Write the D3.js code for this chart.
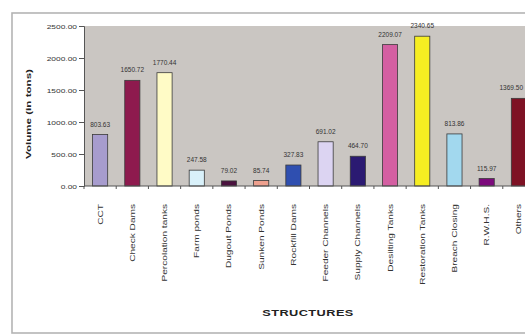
<!DOCTYPE html>
<html>
<head>
<meta charset="utf-8">
<script src="https://cdn.jsdelivr.net/npm/d3@7"></script>
<style>
  html, body { margin: 0; padding: 0; background: #fff; overflow: hidden; }
  svg { display: block; font-family: "Liberation Sans", Arial, sans-serif; }
</style>
</head>
<body>
<svg id="chart" width="525" height="334"></svg>
<script>
// Volume of earth work per structure type
const structures = ["CCT", "Check Dams", "Percolation tanks", "Farm ponds", "Dugout Ponds",
  "Sunken Ponds", "Rockfill Dams", "Feeder Channels", "Supply Channels", "Desilting Tanks",
  "Restoration Tanks", "Breach Closing", "R.W.H.S.", "Others"];
const volumes = [803.63, 1650.72, 1770.44, 247.58, 79.02, 85.74, 327.83, 691.02, 464.70,
  2209.07, 2340.65, 813.86, 115.97, 1369.50];
const barColors = ["#a79cce", "#8e1a4e", "#fffbc6", "#d9f1fa", "#4b123f", "#eea08e",
  "#2f4fb0", "#dcd4f2", "#2b1a72", "#d45fa2", "#f6ee22", "#a2d8ee", "#7c0a7c", "#7e1224"];
const yTicks = [0, 500, 1000, 1500, 2000, 2500];

const W = 525;
const svg = d3.select("#chart");

// outer frame
svg.append("rect")
  .attr("x", 12).attr("y", 13).attr("width", 530).attr("height", 320)
  .attr("fill", "#fff").attr("stroke", "#b4b4b4").attr("stroke-width", 1.6);

const margin = { left: 84, top: 26, bottom: 186 };
const plotRight = 535;

const x = d3.scaleBand().domain(structures).range([margin.left, plotRight]).padding(0);
const y = d3.scaleLinear().domain([0, 2500]).range([margin.bottom, margin.top]);

// plot area
svg.append("rect")
  .attr("x", margin.left).attr("y", margin.top)
  .attr("width", plotRight - margin.left).attr("height", margin.bottom - margin.top)
  .attr("fill", "#cac6c2");

// bars
const barW = x.bandwidth() * 0.47;
svg.append("g").selectAll("rect").data(structures).join("rect")
  .attr("x", d => x(d) + (x.bandwidth() - barW) / 2)
  .attr("y", (d, i) => y(volumes[i]))
  .attr("width", barW)
  .attr("height", (d, i) => y(0) - y(volumes[i]))
  .attr("fill", (d, i) => barColors[i])
  .attr("stroke", "#3a3a3a").attr("stroke-width", 0.8);

// value labels, kept inside the page width
const valueLabels = svg.append("g").selectAll("text").data(structures).join("text")
  .attr("x", d => x(d) + x.bandwidth() / 2)
  .attr("y", (d, i) => y(volumes[i]) - 8)
  .attr("text-anchor", "middle")
  .attr("font-size", 6.5).attr("fill", "#333")
  .text((d, i) => volumes[i].toFixed(2));
valueLabels.each(function () {
  const b = this.getBBox();
  if (b.x + b.width > W - 2) {
    d3.select(this).attr("text-anchor", "end").attr("x", W - 2);
  }
});

// y axis
const yAxis = svg.append("g").attr("transform", `translate(${margin.left},0)`)
  .call(d3.axisLeft(y).tickValues(yTicks).tickSize(5).tickFormat(() => ""));
yAxis.select(".domain").attr("stroke", "#555");
yAxis.selectAll(".tick line").attr("stroke", "#555");
yAxis.selectAll(".tick").append("g")
  .attr("transform", "translate(-7,2) scale(1.4,1)")
  .append("text")
  .attr("text-anchor", "end").attr("font-size", 6).attr("fill", "#333")
  .text(d => d.toFixed(2));

// x axis with ticks at category boundaries
svg.append("line")
  .attr("x1", margin.left).attr("x2", plotRight)
  .attr("y1", margin.bottom).attr("y2", margin.bottom)
  .attr("stroke", "#555");
svg.append("g").selectAll("line").data(structures).join("line")
  .attr("x1", d => x(d)).attr("x2", d => x(d))
  .attr("y1", margin.bottom).attr("y2", margin.bottom + 3)
  .attr("stroke", "#555");

// category labels
svg.append("g").selectAll("g").data(structures).join("g")
  .attr("transform", d => `translate(${x(d) + x.bandwidth() / 2 + 2.5},204) rotate(-90) scale(1.35,1)`)
  .append("text")
  .attr("text-anchor", "end").attr("font-size", 7.5).attr("fill", "#333")
  .text(d => d);

// axis titles
svg.append("g")
  .attr("transform", "translate(31,114) rotate(-90) scale(1.45,1)")
  .append("text")
  .attr("text-anchor", "middle").attr("font-size", 8).attr("font-weight", "bold").attr("fill", "#222")
  .text("Volume (in tons)");

svg.append("g")
  .attr("transform", "translate(308,316) scale(1.5,1)")
  .append("text")
  .attr("text-anchor", "middle").attr("font-size", 8.5).attr("font-weight", "bold").attr("fill", "#222")
  .attr("letter-spacing", 0.3)
  .text("STRUCTURES");
</script>
</body>
</html>
